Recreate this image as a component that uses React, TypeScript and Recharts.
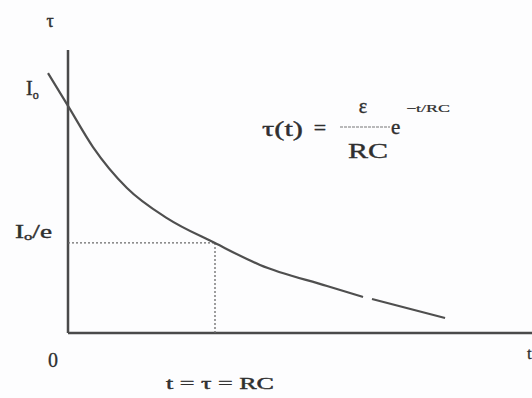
import React from 'react';
import { ComposedChart, Line, XAxis, YAxis, ReferenceLine, ReferenceDot, Customized } from 'recharts';

// time in units of tau = RC, current in units of I0
const tValues = [-0.136, 0, 0.17, 0.401, 0.673, 1.0, 1.306, 1.762, 2.007, 2.037, 2.068, 2.565];
const iValues: (number | null)[] = [1.061, 0.927, 0.759, 0.592, 0.469, 0.367, 0.278, 0.192, 0.147, null, 0.139, 0.061];
const tauValue = 1;
const i0Value = 1;
const i0OverE = 0.368;
const yAxisTop = 1.155;
const xDomain: [number, number] = [-0.4626, 3.1565];
const yDomain: [number, number] = [-0.2653, 1.3592];

const data = tValues.map((t, k) => ({ t, i: iValues[k] }));

const FONT = '"Liberation Serif", "DejaVu Serif", serif';
const INK = '#2f2f2f';

const labelAt = (render: (x: number, y: number) => React.ReactNode) => (props: any) => {
  const vb = props.viewBox || {};
  const cx = (vb.x ?? 0) + (vb.width ?? 0) / 2;
  const cy = (vb.y ?? 0) + (vb.height ?? 0) / 2;
  return <g>{render(cx, cy)}</g>;
};

const Formula = () => (
  <g fontFamily={FONT} fill={INK} stroke={INK} strokeWidth={0.4}>
    <text x={262} y={136} fontSize={21} textLength={41} lengthAdjust="spacingAndGlyphs">τ(t)</text>
    <text x={320} y={135} fontSize={22} textAnchor="middle">=</text>
    <text x={363} y={113} fontSize={20} textAnchor="middle">ε</text>
    <line x1={340} y1={127} x2={390} y2={127} stroke="#777" strokeWidth={1.2} strokeDasharray="3 1" />
    <text x={348} y={158} fontSize={22} textLength={40} lengthAdjust="spacingAndGlyphs">RC</text>
    <text x={391} y={134} fontSize={21}>e</text>
    <text x={406} y={112} fontSize={11} strokeWidth={0.2} textLength={44} lengthAdjust="spacingAndGlyphs">−t/RC</text>
  </g>
);

export default function App() {
  return (
    <div style={{ position: 'absolute', left: 0, top: 0, width: 532, height: 398, background: '#fdfdfe' }}>
      <ComposedChart width={532} height={398} data={data} margin={{ top: 0, right: 0, bottom: 0, left: 0 }}>
        <XAxis type="number" dataKey="t" domain={xDomain} allowDataOverflow hide />
        <YAxis type="number" domain={yDomain} allowDataOverflow hide />
        {/* axes */}
        <ReferenceLine segment={[{ x: 0, y: 0 }, { x: 0, y: yAxisTop }]} stroke="#4a4a4a" strokeWidth={2.5} ifOverflow="visible" />
        <ReferenceLine segment={[{ x: 0, y: 0 }, { x: xDomain[1], y: 0 }]} stroke="#4a4a4a" strokeWidth={2.5} ifOverflow="visible" />
        {/* dotted guides */}
        <ReferenceLine segment={[{ x: 0, y: i0OverE }, { x: tauValue, y: i0OverE }]} stroke="#6a6a6a" strokeWidth={1.3} strokeDasharray="2 2" ifOverflow="visible" />
        <ReferenceLine segment={[{ x: tauValue, y: 0 }, { x: tauValue, y: i0OverE }]} stroke="#6a6a6a" strokeWidth={1.3} strokeDasharray="2 2" ifOverflow="visible" />
        <Line
          type="monotone"
          dataKey="i"
          stroke="#4f4f4f"
          strokeWidth={2.2}
          dot={false}
          activeDot={false}
          connectNulls={false}
          isAnimationActive={false}
        />
        {/* labels anchored to data points */}
        <ReferenceDot x={0} y={yAxisTop} r={0} fill="none" stroke="none" ifOverflow="visible"
          label={{ content: labelAt((x, y) => (
            <text x={x - 18} y={y - 23} fontSize={18} fontFamily={FONT} fill={INK} stroke={INK} strokeWidth={0.4} textAnchor="middle">τ</text>
          )) }} />
        <ReferenceDot x={0} y={i0Value} r={0} fill="none" stroke="none" ifOverflow="visible"
          label={{ content: labelAt((x, y) => (
            <text x={x - 42} y={y + 7} fontSize={20} fontFamily={FONT} fill={INK} stroke={INK} strokeWidth={0.4}>
              I<tspan fontSize={12} dy={4}>o</tspan>
            </text>
          )) }} />
        <ReferenceDot x={0} y={i0OverE} r={0} fill="none" stroke="none" ifOverflow="visible"
          label={{ content: labelAt((x, y) => (
            <text x={x - 53} y={y - 5} fontSize={18} fontFamily={FONT} fill={INK} stroke={INK} strokeWidth={0.4} textLength={37} lengthAdjust="spacingAndGlyphs">
              I<tspan fontSize={11} dy={2}>o</tspan><tspan dy={-2}>/e</tspan>
            </text>
          )) }} />
        <ReferenceDot x={0} y={0} r={0} fill="none" stroke="none" ifOverflow="visible"
          label={{ content: labelAt((x, y) => (
            <text x={x - 15} y={y + 34} fontSize={20} fontFamily={FONT} fill={INK} stroke={INK} strokeWidth={0.3} textAnchor="middle">0</text>
          )) }} />
        <ReferenceDot x={tauValue} y={0} r={0} fill="none" stroke="none" ifOverflow="visible"
          label={{ content: labelAt((x, y) => (
            <text x={x + 5} y={y + 56} fontSize={16} fontFamily={FONT} fill={INK} stroke={INK} strokeWidth={0.4} textAnchor="middle" textLength={108} lengthAdjust="spacingAndGlyphs">t = τ = RC</text>
          )) }} />
        <ReferenceDot x={xDomain[1]} y={0} r={0} fill="none" stroke="none" ifOverflow="visible"
          label={{ content: labelAt((x, y) => (
            <text x={x - 5} y={y + 26} fontSize={17} fontFamily={FONT} fill={INK} stroke={INK} strokeWidth={0.3}>t</text>
          )) }} />
        <Customized component={Formula} />
      </ComposedChart>
    </div>
  );
}
